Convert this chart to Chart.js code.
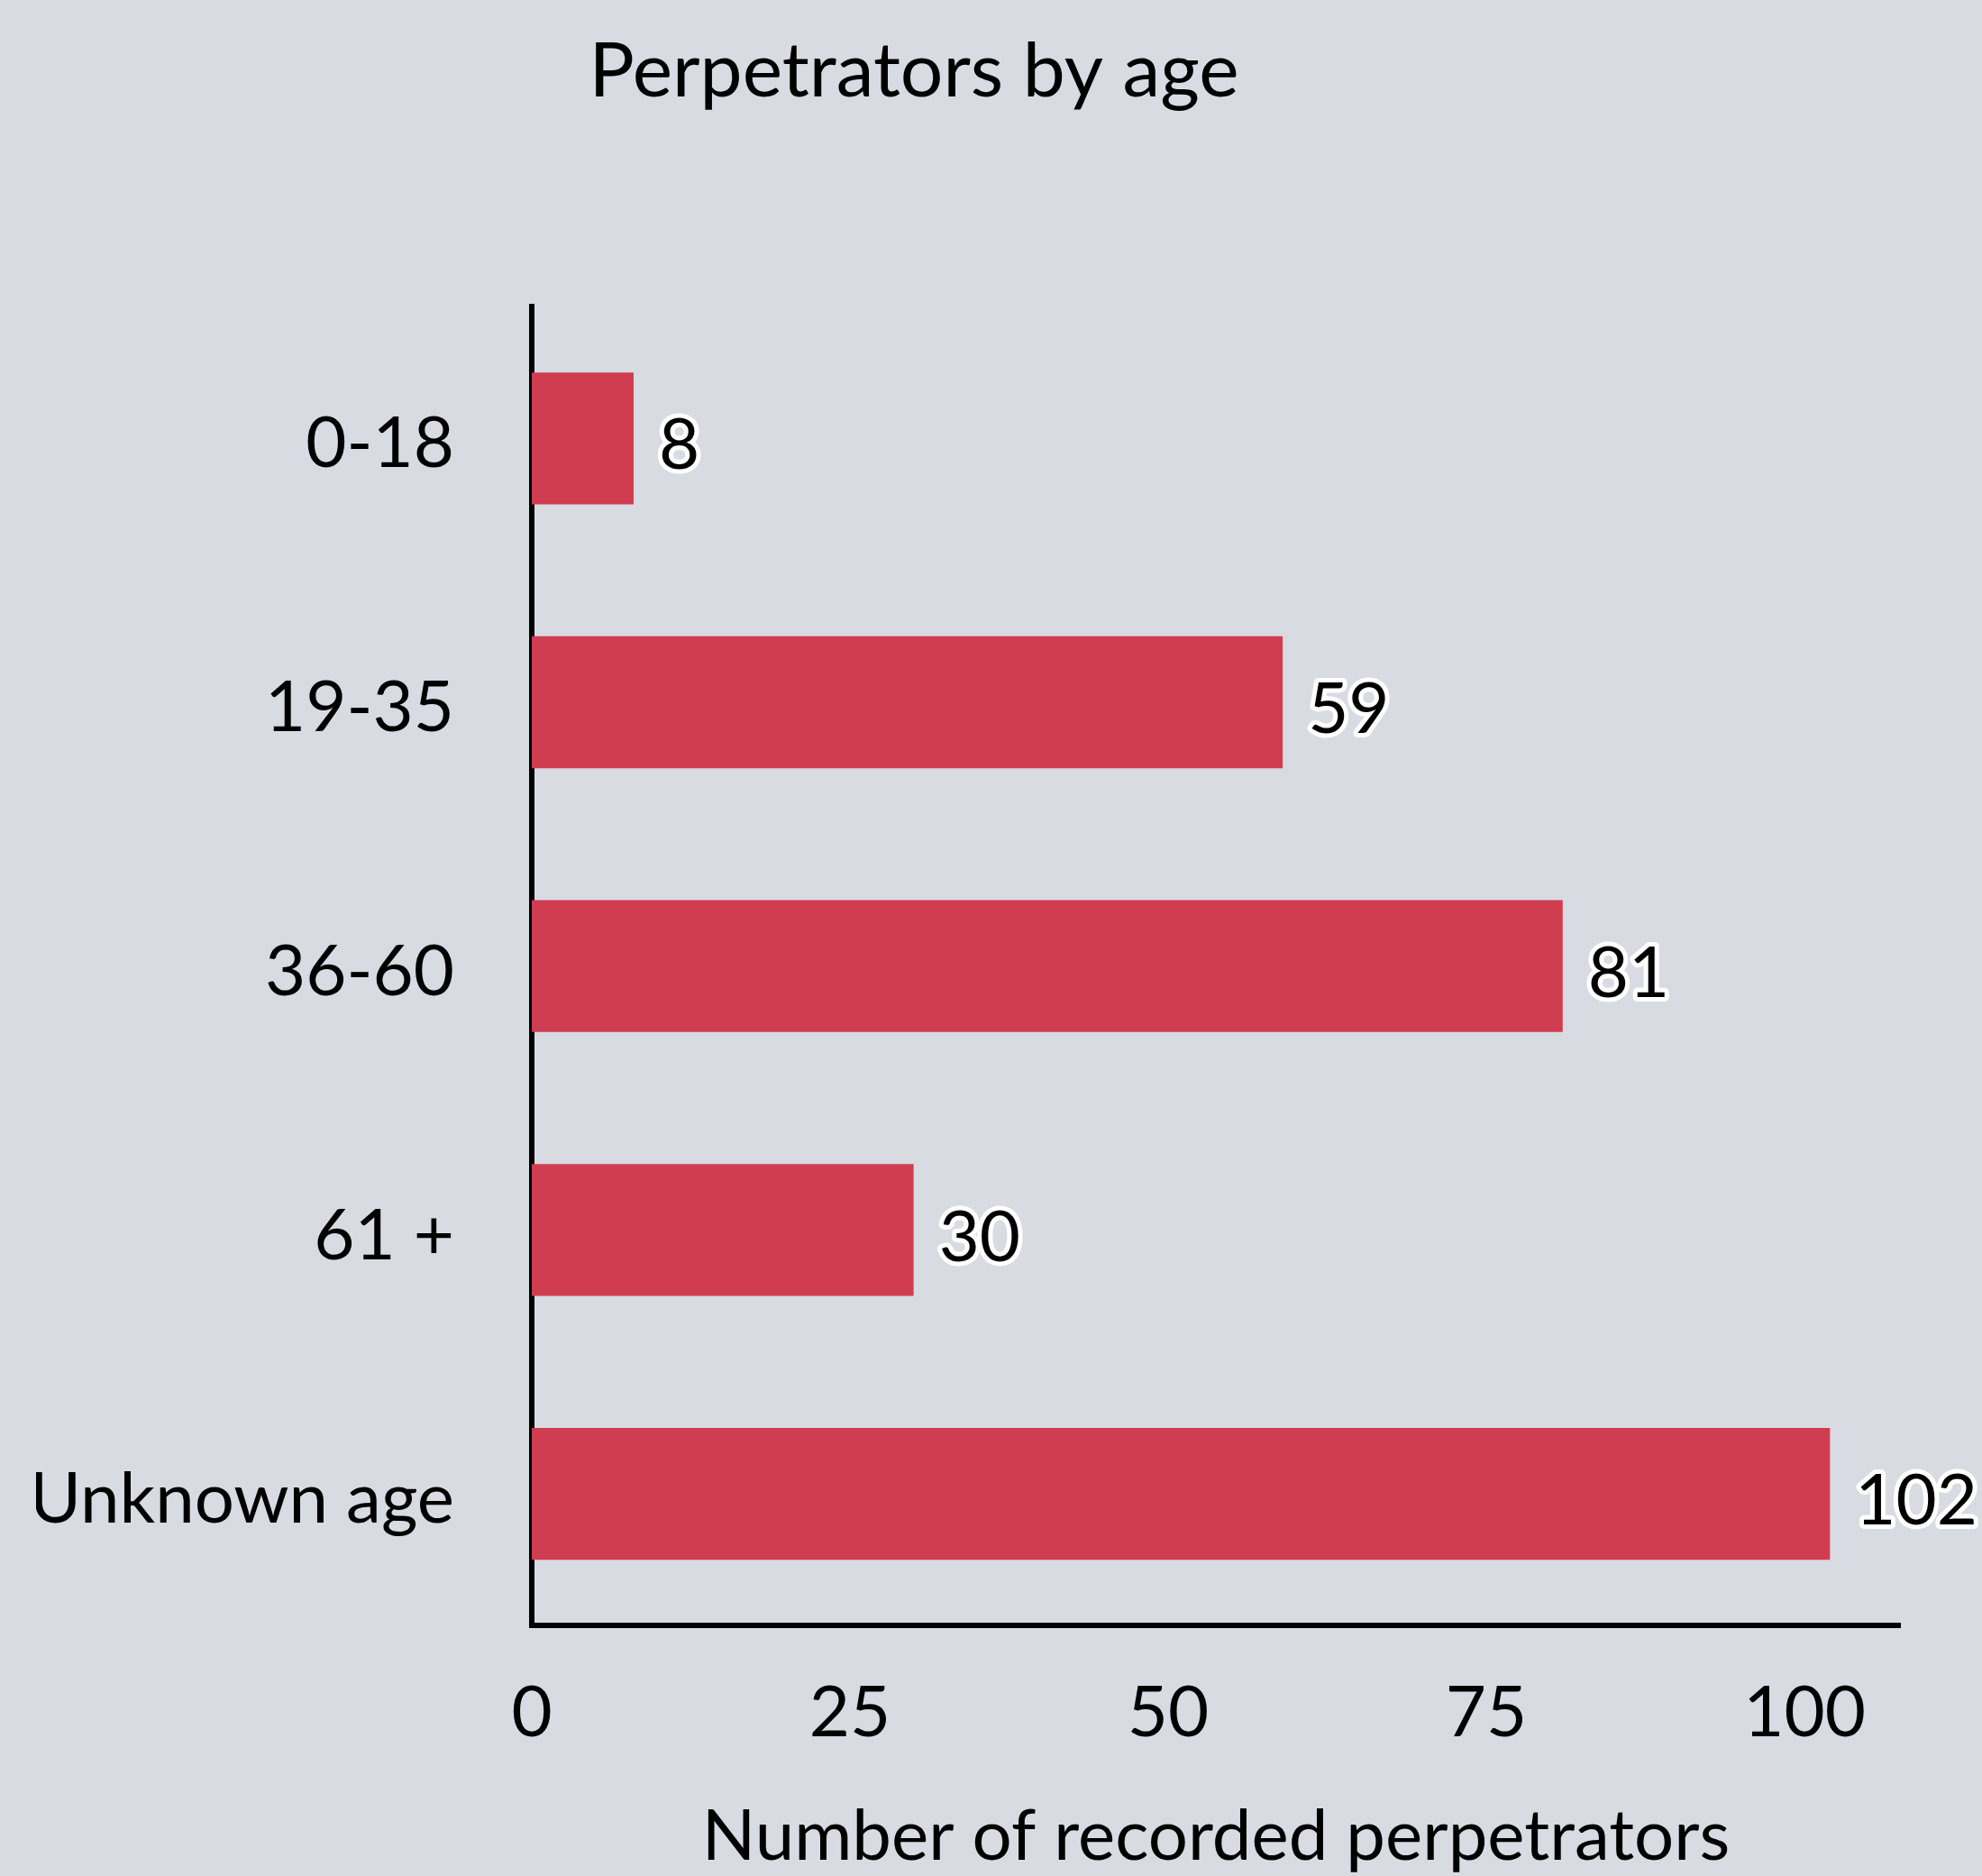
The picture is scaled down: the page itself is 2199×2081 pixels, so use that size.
<!DOCTYPE html>
<html>
<head>
<meta charset="utf-8">
<script src="https://cdn.jsdelivr.net/npm/chart.js@4.4.0/dist/chart.umd.min.js"></script>
<style>
  html, body { margin: 0; padding: 0; background: #d8dbe2; }
  #wrap { width: 2199px; height: 2081px; position: relative; }
</style>
</head>
<body>
<div id="wrap"><canvas id="myChart"></canvas></div>
<script>
const categories = ['0-18', '19-35', '36-60', '61 +', 'Unknown age'];
const perpetrators = [8, 59, 81, 30, 102];
const xTicks = [0, 25, 50, 75, 100];

const chartTitle = 'Perpetrators by age';
const xTitle = 'Number of recorded perpetrators';

const barColor = '#d13d50';
const bgColor = '#d8dbe2';
const fontFamily = 'Lato, "Open Sans", sans-serif';

// background fill
const bgPlugin = {
    id: 'bg',
    beforeDraw(chart) {
        const c = chart.ctx;
        c.save();
        c.fillStyle = bgColor;
        c.fillRect(0, 0, chart.width, chart.height);
        c.restore();
    }
};

// title sits off-centre in the original, so draw it here
const titlePlugin = {
    id: 'offTitle',
    afterDraw(chart) {
        const c = chart.ctx;
        c.save();
        c.font = '84px ' + fontFamily;
        c.fillStyle = '#000';
        c.textAlign = 'center';
        c.textBaseline = 'alphabetic';
        c.fillText(chartTitle, 1014, 107);
        c.restore();
    }
};

// value labels with white outline
const valuePlugin = {
    id: 'values',
    afterDatasetsDraw(chart) {
        const c = chart.ctx;
        const meta = chart.getDatasetMeta(0);
        c.save();
        c.font = '78px ' + fontFamily;
        c.textAlign = 'left';
        c.textBaseline = 'middle';
        c.lineJoin = 'round';
        c.lineWidth = 10;
        c.strokeStyle = '#fff';
        c.fillStyle = '#000';
        meta.data.forEach((bar, i) => {
            const txt = String(perpetrators[i]);
            const x = bar.x + 28;
            const y = bar.y + 9;
            c.strokeText(txt, x, y);
            c.fillText(txt, x, y);
        });
        c.restore();
    }
};

document.addEventListener('DOMContentLoaded', () => {
    const canvas = document.getElementById('myChart');
    if (!canvas) return;
    const ctxl = canvas.getContext('2d');
    new Chart(ctxl, {
        type: 'bar',
        data: {
            labels: categories,
            datasets: [{
                data: perpetrators,
                backgroundColor: barColor,
                borderWidth: 0,
                categoryPercentage: 1,
                barPercentage: 0.5
            }]
        },
        options: {
            indexAxis: 'y',
            responsive: true,
            maintainAspectRatio: false,
            animation: false,
            layout: {
                padding: { left: 40, right: 91, top: 340, bottom: 2 }
            },
            plugins: {
                legend: { display: false },
                title: { display: false },
                tooltip: { enabled: false }
            },
            scales: {
                x: {
                    type: 'linear',
                    min: 0,
                    max: 107.5,
                    afterBuildTicks(scale) {
                        scale.ticks = xTicks.map(v => ({ value: v }));
                    },
                    grid: { display: false, drawTicks: false },
                    border: { display: true, color: '#000', width: 6 },
                    ticks: {
                        padding: 51,
                        color: '#000',
                        maxRotation: 0,
                        font: { family: fontFamily, size: 78 }
                    },
                    title: {
                        display: true,
                        text: xTitle,
                        color: '#000',
                        font: { family: fontFamily, size: 78, lineHeight: 1 },
                        padding: { top: 0, bottom: 2 }
                    }
                },
                y: {
                    offset: true,
                    afterFit(scale) {
                        scale.width = 550;
                    },
                    grid: { display: false, drawTicks: false },
                    border: { display: true, color: '#000', width: 6 },
                    ticks: {
                        padding: 86,
                        labelOffset: 7,
                        color: '#000',
                        font: { family: fontFamily, size: 78 }
                    }
                }
            }
        },
        plugins: [bgPlugin, titlePlugin, valuePlugin]
    });
});
</script>
</body>
</html>
